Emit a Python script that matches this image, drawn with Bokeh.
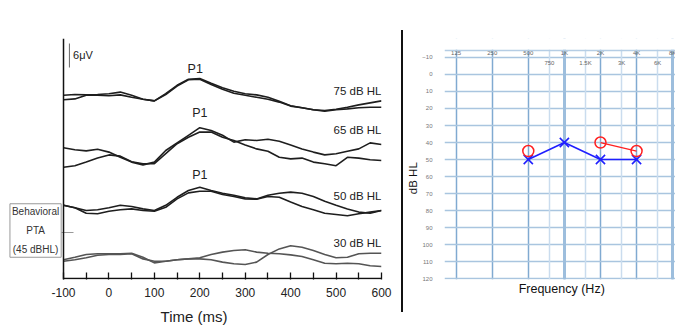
import numpy as np
from bokeh.plotting import figure
from bokeh.layouts import row
from bokeh.models import Range1d, FixedTicker, Label, Span, Grid, BoxAnnotation, Div
from bokeh.embed import file_html
from bokeh.resources import INLINE
from bokeh.core.properties import value

# ---------------- data: cortical evoked responses (uV) ----------------
TIME_MS = [-100, -75, -50, -25, 0, 25, 50, 75, 100, 125, 150, 175, 200, 225,
           250, 275, 300, 325, 350, 375, 400, 425, 450, 475, 500, 525, 550, 575, 600]
LEVELS = ["75 dB HL", "65 dB HL", "50 dB HL", "30 dB HL"]
T75_A = [0.8, 1.0, 0.9, 1.0, 1.2, 1.6, 0.8, -0.2, -0.6, 1.2, 3.3, 4.8, 5.0, 3.8, 2.7,
         1.8, 1.2, 0.9, 0.3, -0.7, -1.8, -2.3, -2.8, -3.0, -2.7, -2.2, -1.6, -1.1, -0.6]
T75_B = [-0.3, -0.1, 0.8, 0.8, 0.7, 0.9, 0.3, -0.2, -0.6, 1.0, 3.1, 4.7, 4.8, 3.5, 2.3,
         1.3, 0.8, 0.3, -0.2, -0.9, -1.9, -2.3, -2.8, -3.2, -2.8, -2.6, -2.3, -2.2, -2.2]
T65_A = [1.7, 1.2, 0.9, 1.3, 0.6, -0.7, -1.9, -2.6, -1.9, 1.0, 2.9, 4.8, 6.7, 6.0, 4.8,
         3.1, 3.7, 3.5, 3.8, 3.3, 2.4, 1.4, 0.6, -0.1, 0.2, 0.8, 1.4, 2.9, 2.5]
T65_B = [-3.2, -2.8, -1.9, -0.9, -0.1, -0.4, -1.8, -2.3, -2.3, 0.2, 2.7, 4.3, 5.6, 5.6, 4.3,
         3.5, 2.4, 1.4, 0.8, -0.7, -1.1, -0.9, -1.9, -2.3, -2.8, -0.7, -0.9, -1.3, -1.5]
T50_A = [0.3, -0.3, -1.0, -0.8, -0.3, 0.3, 0.0, -0.6, -1.0, 0.3, 2.3, 4.0, 4.8, 4.0, 3.3,
         2.8, 2.2, 1.9, 2.8, 3.3, 3.6, 3.3, 2.5, 1.3, 0.3, -0.6, -1.4, -1.7, -1.0]
T50_B = [0.3, -0.3, -1.7, -1.8, -1.2, -0.8, -0.6, -1.0, -1.2, -0.2, 1.9, 3.4, 3.8, 3.8, 3.0,
         2.5, 1.9, 1.8, 2.5, 2.3, 1.1, 0.0, -0.8, -1.7, -2.0, -2.3, -1.8, -1.4, -1.0]
T30_A = [-0.3, 0.3, 1.0, 1.2, 1.2, 1.2, 1.3, 0.3, -1.1, -0.7, -0.3, -0.1, 0.2, 1.0, 1.6,
         2.0, 2.2, 1.6, 1.3, 1.2, 0.9, 0.5, -0.3, -1.2, -1.3, -1.2, -1.3, -1.8, -2.0]
T30_B = [-0.7, -0.3, 0.2, 0.8, 1.0, 1.0, 1.2, -0.1, -0.7, -0.7, -0.3, -0.1, -0.1, -0.3, -0.9,
         -1.3, -1.5, -0.9, 1.0, 2.4, 3.2, 2.8, 2.0, 1.0, 0.2, 0.3, 1.2, 1.3, 1.3]
X_TICKS = [-100, 0, 100, 200, 300, 400, 500, 600]
X_MINOR = [-50, 50, 150, 250, 350, 450, 550]
SCALE_UV = 6

# ---------------- data: audiogram ----------------
FREQ_OCT = [125, 250, 500, 1000, 2000, 4000, 8000]
FREQ_OCT_LABELS = ["125", "250", "500", "1K", "2K", "4K", "8K"]
FREQ_MID = [750, 1500, 3000, 6000]
FREQ_MID_LABELS = ["750", "1.5K", "3K", "6K"]
DB_TICKS = [-10, 0, 10, 20, 30, 40, 50, 60, 70, 80, 90, 100, 110, 120]
X_FREQ = [500, 1000, 2000, 4000]     # blue X
X_DB = [50, 40, 50, 50]
O_FREQ = [500, 2000, 4000]           # red O
O_DB = [45, 40, 45]

# ---------------- layout constants ----------------
STACK_OFFSET = [45, 31, 18, 5]
LEVEL_LABEL_Y = [47, 37.25, 20.75, 9]
P1_X = [190, 200, 200]
P1_Y = [52.3, 41.3, 25.8]
FONT = value("Liberation Sans")
T0, T1 = X_TICKS[0], X_TICKS[-1]
NB = "\u00a0"

# ================= left panel =================
p = figure(width=399, height=331, x_range=Range1d(-225.5, 600), y_range=Range1d(-0.25, 60),
           y_axis_location=None,
           min_border_left=6, min_border_right=18, min_border_top=38, min_border_bottom=52,
           toolbar_location=None, output_backend="svg")
p.outline_line_color = None
p.grid.visible = False

xa = p.xaxis[0]
xa.ticker = FixedTicker(ticks=X_TICKS, minor_ticks=X_MINOR)
xa.major_label_overrides = {t: str(t) for t in X_TICKS}
xa.major_tick_in = 7
xa.major_tick_out = 0
xa.minor_tick_in = 7
xa.minor_tick_out = 0
xa.major_tick_line_width = 1.3
xa.minor_tick_line_width = 1.3
xa.axis_line_color = None
xa.major_tick_line_color = "#111"
xa.minor_tick_line_color = "#111"
xa.major_label_text_font_size = "12px"
xa.major_label_text_font = "Liberation Sans"
xa.major_label_text_color = "#222"
xa.major_label_standoff = 8
xa.axis_label = "Time (ms)"
xa.axis_label_text_font_size = "15px"
xa.axis_label_text_font = "Liberation Sans"
xa.axis_label_text_font_style = "normal"
xa.axis_label_text_color = "#222"
xa.axis_label_standoff = 8

p.segment(x0=[T0], x1=[T1], y0=[0], y1=[0], line_color="#111", line_width=1.6)
p.add_layout(Span(location=T0, dimension="height", line_color="#111", line_width=1.5))

traces = [(T75_A, T75_B), (T65_A, T65_B), (T50_A, T50_B), (T30_A, T30_B)]
colors = ["#1e1e1e", "#1e1e1e", "#1e1e1e", "#555555"]
for (ta, tb), off, col in zip(traces, STACK_OFFSET, colors):
    p.line(TIME_MS, np.array(ta) + off, line_color=col, line_width=1.6)
    p.line(TIME_MS, np.array(tb) + off, line_color=col, line_width=1.6)

p.text(x=[T1] * 4, y=LEVEL_LABEL_Y, text=LEVELS, text_align="right", text_baseline="middle",
       text_font=FONT, text_font_size="11.5px", text_color="#222")
p.text(x=P1_X, y=P1_Y, text=["P1"] * 3, text_align="center", text_baseline="middle",
       text_font=FONT, text_font_size="12.5px", text_color="#222")
p.segment(x0=[-87], x1=[-87], y0=[52.75], y1=[52.75 + SCALE_UV], line_color="#666", line_width=1)
p.text(x=[-79], y=[55.8], text=["6\u03bcV"], text_baseline="middle", text_font_size="11px",
       text_font=FONT, text_color="#222")
p.segment(x0=[-122], x1=[-78], y0=[11.5], y1=[11.5], line_color="#999", line_width=1)
p.add_layout(Label(x=-161.5, y=12, text="Behavioral\nPTA\n(45 dBHL)", text_align="center",
                   text_baseline="middle", text_font_size="10px", text_font="Liberation Sans",
                   text_color="#333", text_line_height=1.75, border_line_color="#999",
                   border_line_width=1, background_fill_color="white", padding=2))

# ================= divider =================
div = Div(text="", width=2, height=282, margin=(30, 1, 19, 2),
          styles={"background-color": "#111"})

# ================= audiogram =================
q = figure(width=271, height=331, x_axis_type="log", x_range=Range1d(100, 8450),
           y_range=Range1d(120.5, -21.13),
           min_border_left=32, min_border_right=0, min_border_top=38, min_border_bottom=52,
           toolbar_location=None, output_backend="svg")
q.outline_line_color = None

qx = q.xaxis[0]
qx.ticker = FixedTicker(ticks=[])
qx.major_label_text_font_size = "0px"
qx.major_tick_line_color = None
qx.minor_tick_line_color = None
qx.axis_line_color = None
qx.axis_label = NB + "Frequency (Hz)"
qx.axis_label_text_font_size = "12.5px"
qx.axis_label_text_font = "Liberation Sans"
qx.axis_label_text_font_style = "normal"
qx.axis_label_text_color = "#111"
qx.axis_label_standoff = 2

qy = q.yaxis[0]
qy.ticker = FixedTicker(ticks=DB_TICKS)
qy.major_tick_line_color = None
qy.minor_tick_line_color = None
qy.axis_line_color = None
qy.major_label_text_font_size = "6px"
qy.major_label_text_color = "#777"
qy.major_label_text_font = "Liberation Sans"
qy.major_label_standoff = 6
qy.axis_label = "dB HL" + NB * 12
qy.axis_label_text_font_size = "11.5px"
qy.axis_label_text_font = "Liberation Sans"
qy.axis_label_text_font_style = "normal"
qy.axis_label_text_color = "#111"
qy.axis_label_standoff = 0

q.ygrid.grid_line_color = "#a9c5df"
q.ygrid.grid_line_width = 1.5
q.xgrid.ticker = FixedTicker(ticks=FREQ_OCT)
q.xgrid.grid_line_color = "#80aad1"
q.xgrid.grid_line_width = 1.5
q.add_layout(Grid(dimension=0, ticker=FixedTicker(ticks=FREQ_MID),
                  grid_line_color="#cadcee", grid_line_width=1.5))
q.add_layout(Grid(dimension=0, ticker=FixedTicker(ticks=[1000, 8000]),
                  grid_line_color="#9dbedd", grid_line_width=3))
q.add_layout(BoxAnnotation(bottom=-14.45, top=-30, fill_color="white", fill_alpha=1.0,
                           line_color=None))
q.add_layout(Span(location=-14.1, dimension="width", line_color="#b5cde4", line_width=1.5))

q.text(x=FREQ_OCT, y=[-12.4] * len(FREQ_OCT), text=FREQ_OCT_LABELS, text_align="center",
       text_baseline="middle", text_font=FONT, text_font_size="6px", text_color="#666")
q.text(x=FREQ_MID, y=[-6.6] * len(FREQ_MID), text=FREQ_MID_LABELS, text_align="center",
       text_baseline="middle", text_font=FONT, text_font_size="6px", text_color="#666")

q.line(X_FREQ, X_DB, line_color="#1f1fff", line_width=1.6)
q.scatter(X_FREQ, X_DB, marker="x", size=13, line_color="#1f1fff", line_width=1.6)
q.line(O_FREQ[1:], O_DB[1:], line_color="#ff2020", line_width=1.3)
q.scatter(O_FREQ, O_DB, marker="circle", size=11, fill_color=None, line_color="#ff2020",
          line_width=1.5)

layout = row(p, div, q)
open("out.html", "w").write(file_html(layout, INLINE))
